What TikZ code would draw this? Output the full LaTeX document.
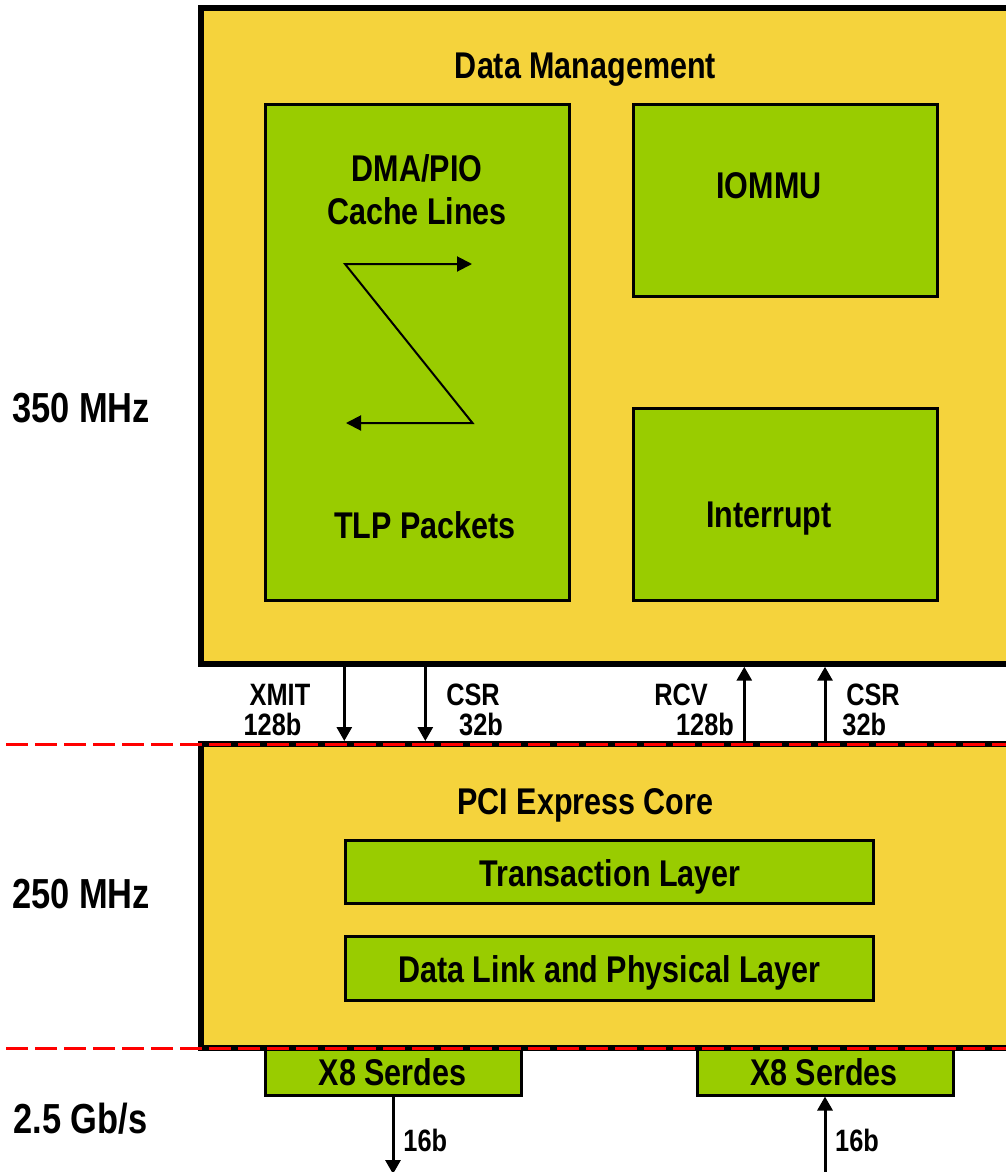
\documentclass[tikz,border=0pt]{standalone}
\usepackage{fontspec}
\newfontfamily\narrowsans{Liberation Sans}[FakeStretch=0.82]
\usetikzlibrary{arrows.meta}
\definecolor{panelyellow}{RGB}{245,211,60}
\definecolor{blockgreen}{RGB}{153,204,0}
\definecolor{clockred}{RGB}{255,0,0}

\begin{document}
\begin{tikzpicture}[x=1bp,y=-1bp,
  panel/.style={draw=black, line width=6bp, fill=panelyellow, inner sep=0, rectangle},
  block/.style={draw=black, line width=3bp, fill=blockgreen, inner sep=0, rectangle},
  title/.style={font=\narrowsans\bfseries\fontsize{37.2bp}{40bp}\selectfont, inner sep=0, anchor=base},
  buslbl/.style={font=\narrowsans\bfseries\fontsize{30.9bp}{33bp}\selectfont, inner sep=0, anchor=base},
  clocklbl/.style={font=\narrowsans\bfseries\fontsize{42bp}{45bp}\selectfont, inner sep=0, anchor=base},
  bus/.style={draw=black, line width=3bp, -{Triangle[width=15bp,length=14bp]}},
  flow/.style={draw=black, line width=2bp, {Triangle[width=15bp,length=15bp]}-{Triangle[width=15bp,length=15bp]}},
  clockedge/.style={draw=clockred, line width=3bp, dash pattern=on 22bp off 7bp}
]
\useasboundingbox (0,0) rectangle (1006,1172);

% SerDes blocks sit just under the core panel
\node[block, minimum width=256bp, minimum height=47bp] (serL) at (393,1071.5) {};
\node[block, minimum width=256bp, minimum height=47bp] (serR) at (825,1071.5) {};

% Main panels
\node[panel, minimum width=814bp, minimum height=655.7bp] (dm) at (608,335.85) {};
\node[panel, minimum width=814bp, minimum height=303.5bp] (pci) at (608,895.75) {};

% Data management sub-blocks
\node[block, minimum width=303.5bp, minimum height=495.5bp] (dma) at (417.25,352.25) {};
\node[block, minimum width=304bp, minimum height=191.5bp] (iommu) at (785,200.25) {};
\node[block, minimum width=304bp, minimum height=192bp] (intr) at (785,504) {};

% PCI Express core layers
\node[block, minimum width=528bp, minimum height=63bp] (tl) at (609,871.5) {};
\node[block, minimum width=528bp, minimum height=64bp] (dll) at (609,968) {};

% Labels
\node[title] (tdm) at (585.5,78) {Data Management};
\node[title] (tdma1) at (417,181) {DMA/PIO};
\node[title] (tdma2) at (417,224) {Cache Lines};
\node[title] (ttlp) at (425,538) {TLP Packets};
\node[title] (tiommu) at (769,198) {IOMMU};
\node[title] (tintr) at (769,527) {Interrupt};
\node[title] (tpci) at (585.5,814) {PCI Express Core};
\node[title] (ttl) at (610,886) {Transaction Layer};
\node[title] (tdll) at (609.5,982) {Data Link and Physical Layer};
\node[title] (tserL) at (392.5,1085) {X8 Serdes};
\node[title] (tserR) at (824,1085) {X8 Serdes};

\node[clocklbl] (f350) at (81,422) {350 MHz};
\node[clocklbl] (f250) at (81,908) {250 MHz};
\node[clocklbl] (f25) at (80.5,1133) {2.5 Gb/s};

% Cache-line to TLP conversion
\coordinate (z1) at (472,264);
\coordinate (z2) at (345,264);
\coordinate (z3) at (472.5,423);
\coordinate (z4) at (346,423);
\draw[flow] (z1) -- (z2) -- (z3) -- (z4);

% Buses between the clock domains
\coordinate (xXmit) at (344.3,0);
\coordinate (xCsrT) at (425.3,0);
\coordinate (xRcv) at (744.3,0);
\coordinate (xCsrR) at (825,0);
\draw[bus] (dm.south -| xXmit) -- (pci.north -| xXmit);
\draw[bus] (dm.south -| xCsrT) -- (pci.north -| xCsrT);
\draw[bus] (pci.north -| xRcv) -- (dm.south -| xRcv);
\draw[bus] (pci.north -| xCsrR) -- (dm.south -| xCsrR);

\node[buslbl] (lxmit) at (280,705) {XMIT};
\node[buslbl] (lxmitw) at (272.5,735) {128b};
\node[buslbl] (lcsrt) at (473,705) {CSR};
\node[buslbl] (lcsrtw) at (481,735) {32b};
\node[buslbl] (lrcv) at (681,705) {RCV};
\node[buslbl] (lrcvw) at (705,735) {128b};
\node[buslbl] (lcsrr) at (873,705) {CSR};
\node[buslbl] (lcsrrw) at (864.3,735) {32b};

% Serial links
\coordinate (outL) at (393,1174);
\coordinate (inR) at (825,1176);
\draw[bus] (serL.south) -- (outL);
\draw[bus] (inR) -- (serR.south);
\node[buslbl] (l16a) at (425.3,1151) {16b};
\node[buslbl] (l16b) at (857,1151) {16b};

% Clock domain boundaries
\coordinate (d1a) at (6,744);
\coordinate (d1b) at (1010,744);
\coordinate (d2a) at (6,1048);
\coordinate (d2b) at (1010,1048);
\draw[clockedge] (d1a) -- (d1b);
\draw[clockedge] (d2a) -- (d2b);
\end{tikzpicture}
\end{document}
